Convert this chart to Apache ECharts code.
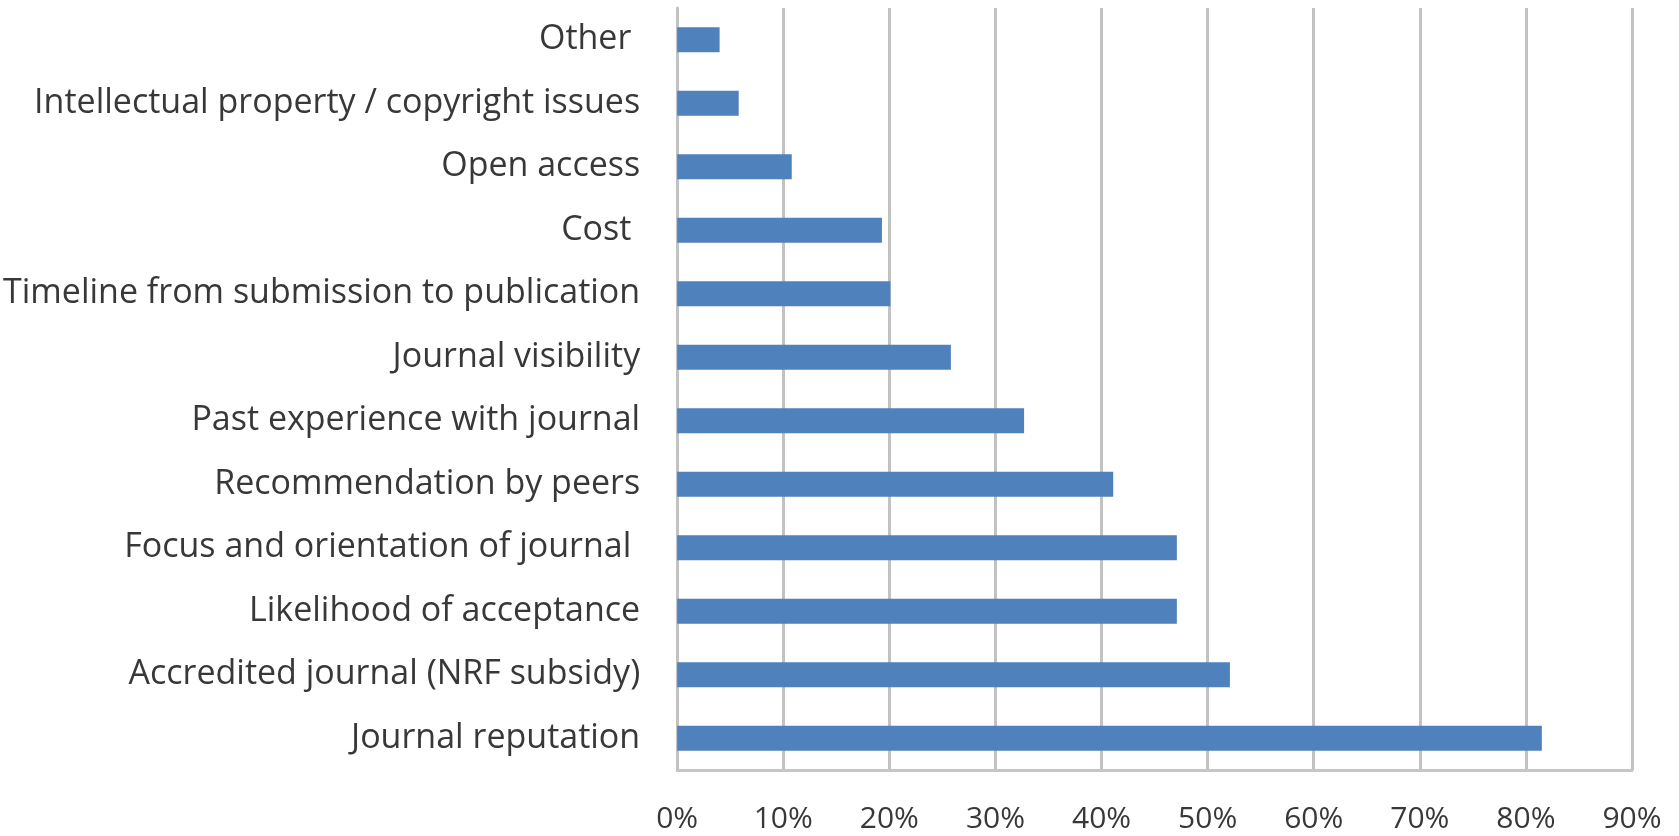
<!DOCTYPE html>
<html>
<head>
<meta charset="utf-8">
<script src="https://cdn.jsdelivr.net/npm/echarts@6/dist/echarts.min.js"></script>
<style>
  html, body { margin: 0; padding: 0; background: #fff; }
  #main { width: 1679px; height: 836px; }
</style>
</head>
<body>
<div id="main"></div>
<script>
// top to bottom, as in the picture
const categories = [
  'Other ',
  'Intellectual property / copyright issues',
  'Open access',
  'Cost ',
  'Timeline from submission to publication',
  'Journal visibility',
  'Past experience with journal',
  'Recommendation by peers',
  'Focus and orientation of journal ',
  'Likelihood of acceptance',
  'Accredited journal (NRF subsidy)',
  'Journal reputation'
];
const shares = [4, 5.8, 10.8, 19.3, 20.1, 25.8, 32.7, 41.1, 47.1, 47.1, 52.1, 81.5];

const chart = echarts.init(document.getElementById('main'));

const option = {
  backgroundColor: '#fff',
  animation: false,
  grid: { left: 677, right: 47, top: 8, bottom: 66 },
  xAxis: {
    type: 'value',
    min: 0,
    max: 90,
    interval: 10,
    axisLine: { show: true, lineStyle: { color: '#c6c6c6', width: 3 } },
    axisTick: { show: false },
    splitLine: { show: true, lineStyle: { color: '#c2c2c2', width: 3 } },
    axisLabel: {
      formatter: '{value}%',
      color: '#383838',
      fontFamily: 'Open Sans',
      fontSize: 30,
      margin: 34
    }
  },
  yAxis: {
    type: 'category',
    inverse: true,
    data: categories,
    axisLine: { show: true, lineStyle: { color: '#c2c2c2', width: 3 } },
    axisTick: { show: false },
    axisLabel: {
      color: '#383838',
      fontFamily: 'Open Sans',
      fontSize: 34,
      margin: 37
    }
  },
  series: [
    {
      type: 'bar',
      data: shares,
      barWidth: 25,
      itemStyle: { color: '#4f81bd' }
    }
  ]
};

chart.setOption(option);
</script>
</body>
</html>
